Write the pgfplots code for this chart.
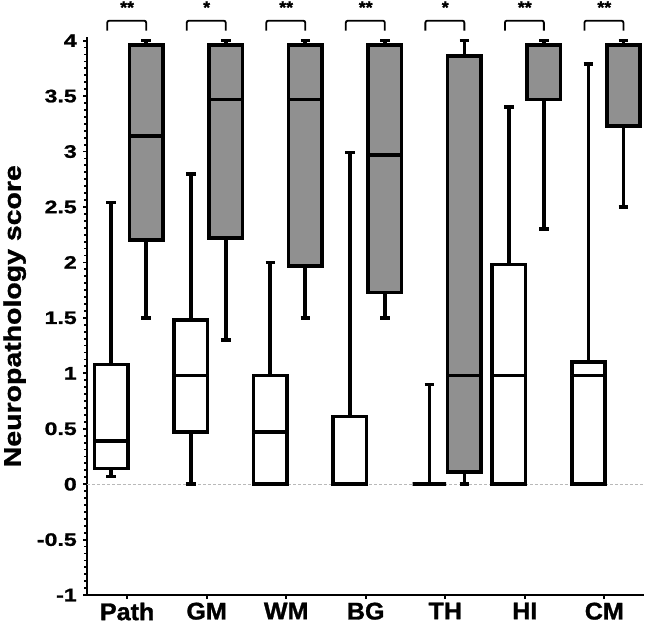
\documentclass[border=0pt]{standalone}
\usepackage{pgfplots}
\pgfplotsset{compat=1.18}
\usepgfplotslibrary{statistics}
\usepackage{fontspec}
\setmainfont{Liberation Sans}
\newfontfamily\tickfont{Liberation Sans Bold}[FakeStretch=1.28, FakeBold=1.2]
\newfontfamily\labfont{Liberation Sans Bold}[FakeStretch=1.18, FakeBold=1.2]
\newfontfamily\catfont{Liberation Sans Bold}[FakeStretch=1.04, FakeBold=1.2]
\definecolor{boxgray}{RGB}{144,144,144}

\pgfplotsset{
  wbox/.style={draw=black, line width=3.6pt, fill=white, solid},
  gbox/.style={draw=black, line width=3.6pt, fill=boxgray, solid},
}
\tikzset{sigstar/.style={font=\catfont\fontsize{17}{17}\selectfont, inner sep=1.5pt}}

\begin{document}
\begin{tikzpicture}
\begin{axis}[
  width=554pt, height=555pt, scale only axis,
  xmin=-0.5, xmax=6.5, ymin=-1, ymax=4.03,
  axis lines=left,
  axis line style={-, line width=1.8pt},
  xtick={0,...,6},
  xticklabels={Path,GM,WM,BG,TH,HI,CM},
  ytick={-1,-0.5,0,0.5,1,1.5,2,2.5,3,3.5,4},
  yticklabels={-1,-0.5,0,0.5,1,1.5,2,2.5,3,3.5,4},
  minor y tick num=7,
  tick align=outside,
  major tick length=4pt, minor tick length=3pt,
  tick style={line width=1.8pt, black},
  yticklabel style={font=\tickfont\fontsize{18}{20}\selectfont, xshift=-3pt},
  xticklabel style={font=\catfont\fontsize{24}{26}\selectfont},
  ylabel={Neuropathology score},
  ylabel style={font=\labfont\fontsize{24}{26}\selectfont},
  ylabel shift=4pt,
  clip=false,
  boxplot/draw direction=y,
  boxplot/box extend=0.42,
  boxplot/whisker extend=0.12,
]
% zero reference line
\addplot[gray!55, densely dashed, line width=1pt] coordinates {(-0.5,0) (6.5,0)};

% Path
\addplot[wbox, boxplot prepared={draw position=-0.2, lower whisker=0.07, lower quartile=0.14, median=0.39, upper quartile=1.08, upper whisker=2.54}] coordinates {};
\addplot[gbox, boxplot prepared={draw position=0.24, lower whisker=1.50, lower quartile=2.20, median=3.14, upper quartile=3.96, upper whisker=4.00}] coordinates {};
% GM
\addplot[wbox, boxplot prepared={draw position=0.8, lower whisker=0, lower quartile=0.47, median=0.98, upper quartile=1.48, upper whisker=2.80}] coordinates {};
\addplot[gbox, boxplot prepared={draw position=1.24, lower whisker=1.30, lower quartile=2.22, median=3.47, upper quartile=3.96, upper whisker=4.00}] coordinates {};
% WM
\addplot[wbox, boxplot prepared={draw position=1.8, lower whisker=0, lower quartile=0, median=0.47, upper quartile=0.98, upper whisker=2.00}] coordinates {};
\addplot[gbox, boxplot prepared={draw position=2.24, lower whisker=1.50, lower quartile=1.97, median=3.47, upper quartile=3.96, upper whisker=4.00}] coordinates {};
% BG
\addplot[wbox, boxplot prepared={draw position=2.8, lower whisker=0, lower quartile=0, median=0, upper quartile=0.61, upper whisker=2.99}] coordinates {};
\addplot[gbox, boxplot prepared={draw position=3.24, lower whisker=1.50, lower quartile=1.73, median=2.97, upper quartile=3.96, upper whisker=4.00}] coordinates {};
% TH
\addplot[wbox, boxplot prepared={draw position=3.8, lower whisker=0, lower quartile=0, median=0, upper quartile=0, upper whisker=0.90}] coordinates {};
\addplot[gbox, boxplot prepared={draw position=4.24, lower whisker=0, lower quartile=0.11, median=0.98, upper quartile=3.86, upper whisker=4.00}] coordinates {};
% HI
\addplot[wbox, boxplot prepared={draw position=4.8, lower whisker=0, lower quartile=0, median=0.98, upper quartile=1.98, upper whisker=3.40}] coordinates {};
\addplot[gbox, boxplot prepared={draw position=5.24, lower whisker=2.30, lower quartile=3.47, median=3.96, upper quartile=3.96, upper whisker=4.00}] coordinates {};
% CM
\addplot[wbox, boxplot prepared={draw position=5.8, lower whisker=0, lower quartile=0, median=0.98, upper quartile=1.10, upper whisker=3.79}] coordinates {};
\addplot[gbox, boxplot prepared={draw position=6.24, lower whisker=2.50, lower quartile=3.23, median=3.96, upper quartile=3.96, upper whisker=4.00}] coordinates {};

% significance brackets
\pgfplotsinvokeforeach{0,...,6}{
  \draw[line width=1.8pt, rounded corners=2pt] (axis cs:#1-0.25,4.09) -- (axis cs:#1-0.25,4.18) -- (axis cs:#1+0.24,4.18) -- (axis cs:#1+0.24,4.09);
}
\node[sigstar] at (axis cs:0,4.30) {**};
\node[sigstar] at (axis cs:1,4.30) {*};
\node[sigstar] at (axis cs:2,4.30) {**};
\node[sigstar] at (axis cs:3,4.30) {**};
\node[sigstar] at (axis cs:4,4.30) {*};
\node[sigstar] at (axis cs:5,4.30) {**};
\node[sigstar] at (axis cs:6,4.30) {**};
\end{axis}
\end{tikzpicture}
\end{document}
